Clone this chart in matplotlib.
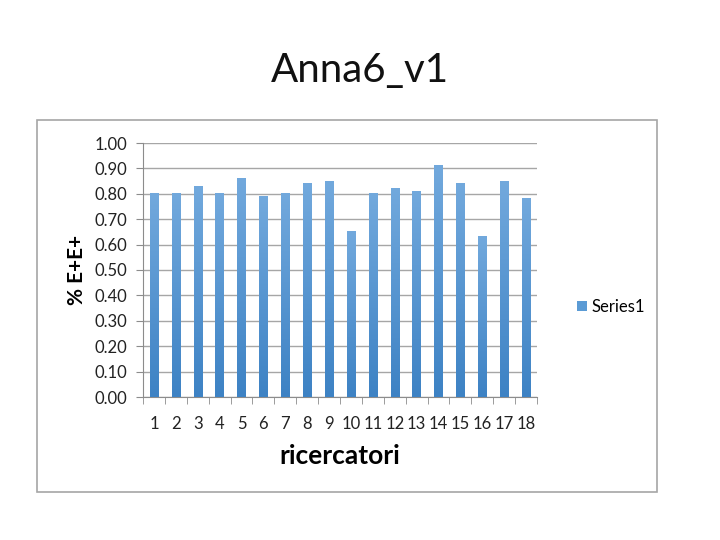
import matplotlib
matplotlib.use("Agg")
import matplotlib.pyplot as plt
import numpy as np
from matplotlib.patches import Rectangle
from matplotlib.colors import LinearSegmentedColormap

plt.rcParams['font.family'] = ['Lato', 'DejaVu Sans']

title = "Anna6_v1"
categories = [str(i) for i in range(1, 19)]
values = [0.80, 0.80, 0.83, 0.80, 0.86, 0.79, 0.80, 0.84, 0.85, 0.65,
          0.80, 0.82, 0.81, 0.91, 0.84, 0.63, 0.85, 0.78]
series_name = "Series1"
ylabel = "% E+E+"
xlabel = "ricercatori"
yticks = [0.0, 0.1, 0.2, 0.3, 0.4, 0.5, 0.6, 0.7, 0.8, 0.9, 1.0]

fig = plt.figure(figsize=(7.2, 5.4), dpi=100)
fig.patch.set_facecolor("white")

# outer chart frame
fig.patches.append(Rectangle((37/720, 1-492/540), (657-37)/720, (492-120)/540,
                             transform=fig.transFigure, fill=False,
                             edgecolor="#a6a6a6", linewidth=1.2))

fig.text(0.5, 1-70/540, title, ha="center", va="center", fontsize=29, color="#111111")

ax = fig.add_axes([143/720, 1-397/540, 394/720, 254/540])
x = np.arange(len(categories))
bw = 0.38
bars = ax.bar(x, values, width=bw, color="#5b9bd5", label=series_name, zorder=3)

cmap = LinearSegmentedColormap.from_list("g", ["#3d82c4", "#72a9dd"])
grad = np.linspace(0, 1, 256).reshape(-1, 1)
for b in bars:
    b.set_facecolor("none")
    b.set_edgecolor("none")
    bx, by, w, h = b.get_x(), b.get_y(), b.get_width(), b.get_height()
    ax.imshow(grad, extent=(bx, bx + w, by, by + h), origin="lower",
              cmap=cmap, aspect="auto", zorder=3)

ax.set_xlim(-0.5, len(categories) - 0.5)
ax.set_ylim(0, 1.0)
ax.set_yticks(yticks)
ax.set_yticklabels([f"{t:.2f}" for t in yticks])
ax.set_xticks(x)
ax.set_xticklabels(categories)
ax.set_xticks(np.arange(-0.5, len(categories)), minor=True)
ax.tick_params(axis="x", which="major", length=0, pad=14, labelsize=12, colors="#222222")
ax.tick_params(axis="x", which="minor", length=5, color="#8c8c8c", direction="out")
ax.tick_params(axis="y", length=5, color="#8c8c8c", direction="out", pad=6, labelsize=12, labelcolor="#222222")
ax.grid(axis="y", color="#a6a6a6", linewidth=1, zorder=0)
ax.set_axisbelow(True)
for s in ["top", "right"]:
    ax.spines[s].set_visible(False)
for s in ["left", "bottom"]:
    ax.spines[s].set_color("#8c8c8c")
ax.set_ylabel(ylabel, fontsize=15, fontweight="bold", labelpad=6)
ax.set_xlabel(xlabel, fontsize=19, fontweight="bold", labelpad=8)

h = Rectangle((0, 0), 1, 1, facecolor="#5b9bd5")
fig.legend([h], [series_name], loc="center left", bbox_to_anchor=(562/720, 1-307/540),
           frameon=False, fontsize=12, handlelength=0.6, handleheight=0.6, handletextpad=0.3)

fig.savefig("out.png", dpi=100)
